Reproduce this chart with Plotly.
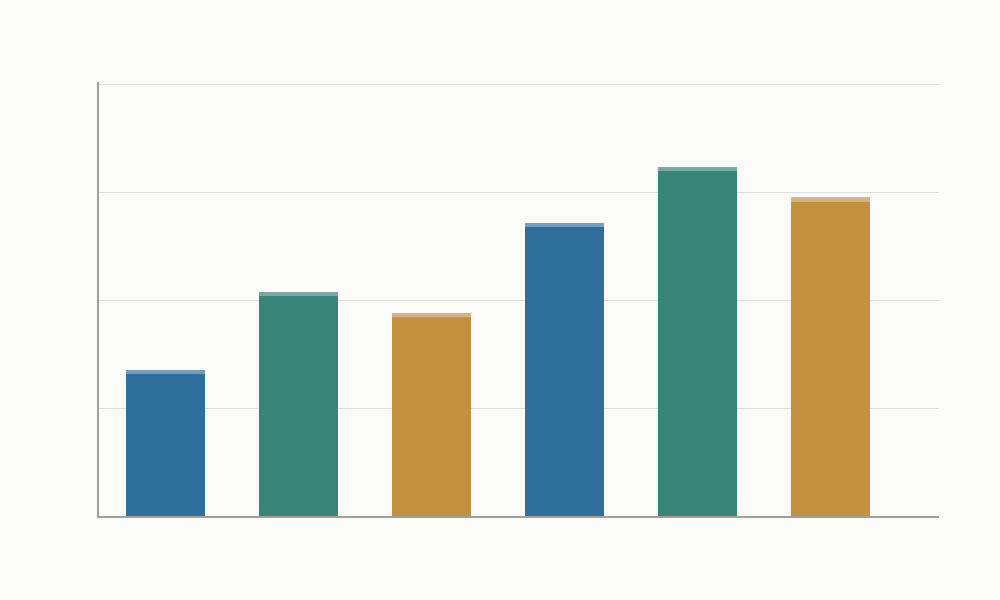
import plotly.graph_objects as go

# six bars, no labels shown on the chart
categories = ["A", "B", "C", "D", "E", "F"]
values = [32.9, 50.9, 46.1, 66.9, 79.9, 72.9]
caps = [0.93, 0.93, 0.93, 0.93, 0.93, 0.93]  # thin lighter strip on top of each bar

bar_colors = ["#2e6f9e", "#378478", "#c4923e", "#2e6f9e", "#378478", "#c4923e"]
cap_colors = ["#709fc1", "#77a9a0", "#d5b47d", "#709fc1", "#77a9a0", "#d5b47d"]

fig = go.Figure()
fig.add_trace(go.Bar(x=categories, y=values, marker_color=bar_colors,
                     marker_line_width=0, width=0.594, hoverinfo="skip"))
fig.add_trace(go.Bar(x=categories, y=caps, marker_color=cap_colors,
                     marker_line_width=0, width=0.594, hoverinfo="skip"))

fig.update_layout(
    barmode="stack",
    showlegend=False,
    width=1000, height=600,
    margin=dict(l=99, r=61, t=82, b=84),
    paper_bgcolor="#fbfbf9",
    plot_bgcolor="#fbfbf9",
)
fig.update_xaxes(type="category", range=[-0.5, 5.816], showticklabels=False,
                 showgrid=False, showline=True, linecolor="#a0a098", linewidth=2,
                 ticks="", zeroline=False)
# a little headroom above 100 so the top gridline is still drawn
fig.update_yaxes(range=[0, 100.6], tickvals=[0, 25, 50, 75, 100], showticklabels=False,
                 showgrid=True, gridcolor="#dfdfdb", gridwidth=1,
                 showline=True, linecolor="#a0a098", linewidth=2,
                 ticks="", zeroline=False)

# drop the browser's default page margin so the figure sits at 0,0
fig.write_html("out.html", config={"displayModeBar": False},
               post_script="document.body.style.margin='0';document.body.style.background='#fbfbf9';")
